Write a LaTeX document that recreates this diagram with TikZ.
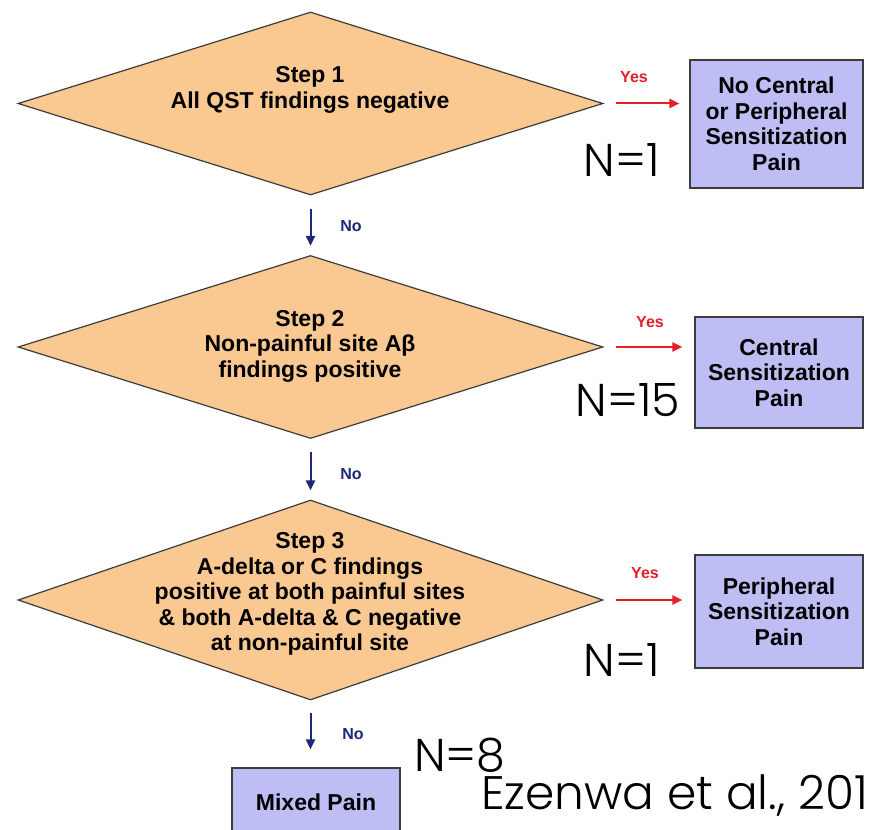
\documentclass[tikz,border=0pt]{standalone}
\usepackage{fontspec}
\setmainfont{Liberation Sans}
\newfontfamily\gothic{Poppins Light}
\usetikzlibrary{shapes.geometric,arrows.meta}
\definecolor{peach}{RGB}{250,200,145}
\definecolor{lav}{RGB}{190,190,245}
\definecolor{edge}{RGB}{60,60,60}
\definecolor{yesred}{RGB}{230,30,40}
\definecolor{nonavy}{RGB}{30,40,120}
\tikzset{
  dia/.style={diamond, draw=edge, line width=1.2pt, fill=peach, inner sep=0pt, minimum width=585pt, minimum height=183pt},
  dtext/.style={align=center, font=\fontsize{23}{25.5}\selectfont\bfseries, inner sep=0pt},
  res/.style={draw=edge, line width=1.2pt, fill=lav, align=center, font=\fontsize{23}{25.5}\selectfont\bfseries, inner sep=0pt},
  yesarrow/.style={draw=yesred, line width=2pt, -{Triangle[length=10pt,width=9pt]}},
  noarrow/.style={draw=nonavy, line width=2pt, -{Triangle[length=10pt,width=9pt]}},
  yeslab/.style={text=yesred, font=\fontsize{16}{18}\selectfont\bfseries, inner sep=0pt},
  nolab/.style={text=nonavy, font=\fontsize{16}{18}\selectfont\bfseries, inner sep=0pt},
  big/.style={font=\fontsize{46}{50}\selectfont\gothic, inner sep=0pt}
}
\begin{document}
\begin{tikzpicture}[x=1pt,y=-1pt]
\useasboundingbox (0,0) rectangle (874,829);
\clip (0,0) rectangle (874,829);
\fill[white] (0,0) rectangle (874,829);
% Step 1
\node[dia] (d1) at (310.5,103.5) {};
\node[dtext] (t1) at (310,90) {Step 1\\All QST findings negative};
\node[res, minimum width=173pt, minimum height=128pt] (b1) at (776.5,124) {No Central\\or Peripheral\\Sensitization\\Pain};
\draw[yesarrow] ([xshift=12pt]d1.east) -- ([xshift=-10pt]b1.west |- d1.east);
\node[yeslab] (y1) at (634,77) {Yes};
\node[big] (n1) at (622,160) {N=1};
% Step 2
\node[dia] (d2) at (310.5,347) {};
\node[dtext] (t2) at (310,346) {Step 2\\Non-painful site Aβ\\findings positive};
\node[res, minimum width=168pt, minimum height=111pt] (b2) at (779,372.5) {Central\\Sensitization\\Pain};
\draw[yesarrow] ([xshift=12pt]d2.east) -- ([xshift=-12pt]b2.west |- d2.east);
\node[yeslab] (y2) at (650,322) {Yes};
\node[big] (n2) at (628,400) {N=15};
\draw[noarrow] ([yshift=-13pt]d1.south) -- ([yshift=9pt]d2.north);
\node[nolab] (no1) at (351,226) {No};
% Step 3
\node[dia, minimum height=200pt] (d3) at (310.5,600) {};
\node[dtext] (t3) at (310,594) {Step 3\\A-delta or C findings\\positive at both painful sites\\\& both A-delta \& C negative\\at non-painful site};
\node[res, minimum width=168pt, minimum height=113pt] (b3) at (779,611.5) {Peripheral\\Sensitization\\Pain};
\draw[yesarrow] ([xshift=12pt]d3.east) -- ([xshift=-12pt]b3.west |- d3.east);
\node[yeslab] (y3) at (645,573) {Yes};
\node[big] (n3) at (622,660) {N=1};
\draw[noarrow] ([yshift=-13pt]d2.south) -- ([yshift=9pt]d3.north);
\node[nolab] (no2) at (351,474) {No};
% Mixed
\node[res, minimum width=168pt, minimum height=68pt] (b4) at (316,802) {Mixed Pain};
\draw[noarrow] ([yshift=-12pt]d3.south) -- ([yshift=18pt]d3.south |- b4.north);
\node[nolab] (no3) at (353,734) {No};
\node[big] (n4) at (460,755) {N=8};
\node[big, font=\fontsize{47}{50}\selectfont\gothic, anchor=east] (ref) at (868,796) {Ezenwa et al., 201};
\end{tikzpicture}
\end{document}
